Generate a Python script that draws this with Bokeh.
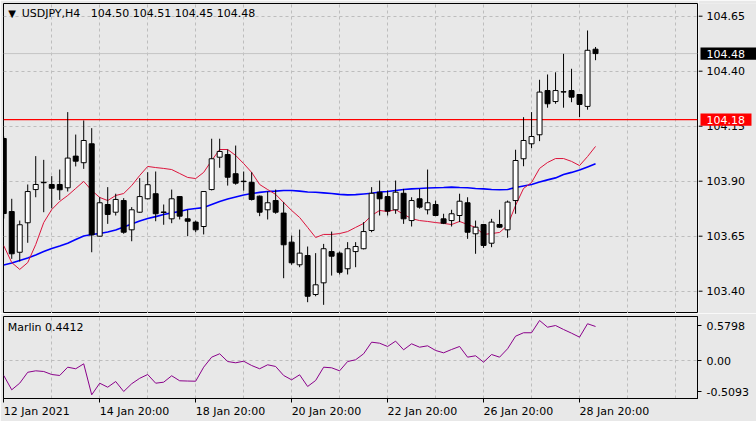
from bokeh.plotting import figure
from bokeh.models import Range1d, FixedTicker, Span, Label, ColumnDataSource
from bokeh.layouts import column, row
from bokeh.core.properties import value
from bokeh.embed import file_html
from bokeh.resources import INLINE

# ---------------- data ----------------
opens = [104.094,103.762,103.577,103.711,103.862,103.895,103.885,103.885,103.870,104.014,
 103.984,104.070,103.650,103.794,103.759,103.812,103.679,103.759,103.820,103.843,
 103.760,103.729,103.830,103.729,103.714,103.694,103.862,104.009,104.021,103.934,
 103.900,103.895,103.832,103.770,103.812,103.755,103.623,103.520,103.562,103.385,
 103.438,103.580,103.573,103.502,103.580,103.593,103.676,103.850,103.830,103.770,
 103.845,103.721,103.820,103.770,103.794,103.729,103.721,103.744,103.802,103.661,
 103.703,103.618,103.703,103.679,103.812,104.002,104.070,104.111,104.312,104.262,
 104.305,104.312,104.294,104.240,104.500]
highs = [104.103,103.820,103.721,103.885,104.014,103.997,103.923,103.953,104.214,104.112,
 104.176,104.141,103.827,103.873,103.843,103.823,103.782,103.914,103.941,103.944,
 103.794,103.862,103.832,103.770,103.721,103.855,104.093,104.093,104.044,104.062,
 103.944,103.941,103.835,103.853,103.862,103.805,103.653,103.680,103.603,103.573,
 103.615,103.671,103.580,103.623,103.623,103.714,103.873,103.903,103.858,103.903,
 103.865,103.827,103.865,103.953,103.812,103.752,103.770,103.843,103.827,103.721,
 103.705,103.729,103.770,103.812,104.043,104.191,104.214,104.361,104.385,104.395,
 104.479,104.411,104.296,104.585,104.510]
lows = [103.730,103.547,103.535,103.620,103.827,103.759,103.777,103.815,103.853,103.967,
 103.956,103.577,103.648,103.706,103.744,103.661,103.627,103.756,103.817,103.718,
 103.702,103.709,103.726,103.650,103.668,103.658,103.858,103.961,103.880,103.884,
 103.857,103.812,103.741,103.726,103.752,103.459,103.520,103.509,103.350,103.377,
 103.338,103.471,103.476,103.476,103.509,103.590,103.668,103.744,103.744,103.752,
 103.706,103.694,103.775,103.749,103.741,103.705,103.694,103.714,103.638,103.570,
 103.597,103.600,103.688,103.643,103.752,103.968,104.050,104.082,104.234,104.252,
 104.234,104.259,104.191,104.225,104.450]
closes = [103.753,103.570,103.702,103.853,103.885,103.893,103.868,103.861,104.005,103.991,
 104.085,103.656,103.802,103.749,103.817,103.668,103.770,103.830,103.884,103.752,
 103.758,103.820,103.741,103.718,103.679,103.853,104.002,104.035,103.918,103.891,
 103.898,103.817,103.759,103.802,103.759,103.611,103.529,103.573,103.377,103.429,
 103.593,103.559,103.486,103.593,103.603,103.671,103.845,103.820,103.764,103.850,
 103.729,103.812,103.782,103.802,103.744,103.709,103.752,103.809,103.668,103.691,
 103.608,103.714,103.691,103.805,103.994,104.085,104.103,104.305,104.252,104.312,
 104.307,104.282,104.249,104.495,104.480]
ma_fast = [103.607,103.530,103.499,103.530,103.612,103.712,103.771,103.808,103.835,103.867,
 103.899,103.858,103.826,103.812,103.835,103.844,103.880,103.926,103.967,103.962,
 103.958,103.953,103.935,103.917,103.912,103.940,103.994,104.044,104.044,104.017,
 103.980,103.940,103.885,103.862,103.840,103.803,103.767,103.735,103.690,103.644,
 103.658,103.658,103.662,103.671,103.690,103.708,103.744,103.767,103.762,103.771,
 103.749,103.730,103.721,103.717,103.712,103.708,103.703,103.717,103.703,103.690,
 103.658,103.662,103.667,103.699,103.790,103.867,103.894,103.958,103.985,104.003,
 104.003,103.990,103.971,104.012,104.058]
ma_slow = [103.519,103.528,103.540,103.551,103.565,103.580,103.594,103.605,103.618,103.635,
 103.651,103.658,103.662,103.669,103.678,103.692,103.705,103.719,103.730,103.739,
 103.749,103.756,103.762,103.771,103.776,103.780,103.794,103.808,103.819,103.828,
 103.837,103.844,103.849,103.853,103.855,103.858,103.858,103.855,103.851,103.850,
 103.847,103.844,103.840,103.838,103.839,103.842,103.845,103.851,103.853,103.858,
 103.862,103.865,103.867,103.869,103.870,103.871,103.873,103.871,103.870,103.867,
 103.865,103.862,103.861,103.862,103.871,103.878,103.885,103.896,103.906,103.915,
 103.930,103.940,103.951,103.965,103.979]
marlin = [-0.243,-0.480,-0.370,-0.190,-0.166,-0.177,-0.227,-0.243,-0.106,-0.132,
 -0.050,-0.563,-0.371,-0.437,-0.343,-0.508,-0.380,-0.290,-0.227,-0.371,
 -0.354,-0.248,-0.331,-0.335,-0.338,-0.106,0.060,0.116,-0.012,-0.033,
 -0.007,-0.078,-0.132,-0.066,-0.094,-0.243,-0.315,-0.232,-0.425,-0.326,
 -0.106,-0.116,-0.166,-0.012,0.017,0.116,0.308,0.291,0.237,0.325,
 0.182,0.281,0.225,0.248,0.171,0.132,0.187,0.237,0.060,0.083,
 -0.023,0.104,0.060,0.199,0.407,0.464,0.464,0.667,0.556,0.584,
 0.518,0.457,0.391,0.613,0.568]

date_ticks = [0, 12, 24, 36, 48, 60, 72]
date_labels = ["12 Jan 2021", "14 Jan 20:00", "18 Jan 20:00", "20 Jan 20:00",
               "22 Jan 20:00", "26 Jan 20:00", "28 Jan 20:00"]
grid_ticks = [6, 12, 18, 24, 30, 36, 42, 48, 54, 60, 66, 72, 78, 84]
price_ticks = [103.40, 103.65, 103.90, 104.15, 104.40, 104.65]
price_tick_labels = ["103.40", "103.65", "103.90", "104.15", "104.40", "104.65"]
marlin_ticks = [-0.5093, 0.0, 0.5798]
marlin_tick_labels = ["-0.5093", "0.00", "0.5798"]
level_price = 104.18
level_text = "104.18"
bid_price = 104.48
bid_text = "104.48"
title_text = "USDJPY,H4\u00a0\u00a0 104.50 104.51 104.45 104.48"
marlin_text = "Marlin 0.4412"

# ---------------- style ----------------
BG = "#e8e8e8"
GRID = "#bdbdbd"
FONT = "DejaVu Sans"
FSPX = 11
FS = f"{FSPX}px"
W = 756
LB = 3
RB = 59
FRAME_W = W - LB - RB
X0, X1 = -0.03, 86.75
PX_PER_BAR = FRAME_W / (X1 - X0)
Y0, Y1 = 103.2986, 104.7077
MAIN_FRAME_H = 310
PX_PER_PRICE = MAIN_FRAME_H / (Y1 - Y0)

# approximate DejaVu Sans advance widths (em) for the date label characters
CHAR_EM = {"0": .636, "1": .636, "2": .636, "3": .636, "4": .636, "5": .636, "6": .636,
           "7": .636, "8": .636, "9": .636, " ": .318, ":": .337, "J": .295, "a": .613,
           "n": .634}

def text_px(s):
    return sum(CHAR_EM.get(ch, .6) for ch in s) * FSPX

x_range = Range1d(X0, X1)
y_range = Range1d(Y0, Y1)

def style_common(p):
    p.background_fill_color = BG
    p.border_fill_color = BG
    p.outline_line_color = "black"
    p.outline_line_width = 1
    for g in (p.xgrid[0], p.ygrid[0]):
        g.grid_line_color = GRID
        g.grid_line_dash = "3 3"
        g.grid_line_width = 1
    p.xgrid[0].ticker = FixedTicker(ticks=grid_ticks)

def style_axis(ax):
    ax.axis_line_color = "black"
    ax.major_tick_line_color = "black"
    ax.minor_tick_line_color = "black"
    ax.major_tick_out = 4
    ax.major_tick_in = 0
    ax.minor_tick_out = 0
    ax.minor_tick_in = 0
    ax.major_label_text_font = FONT
    ax.major_label_text_font_size = FS
    ax.major_label_text_color = "black"
    ax.major_label_standoff = 5

# ---------------- main panel ----------------
p1 = figure(width=LB + FRAME_W + 1, height=3 + MAIN_FRAME_H, x_range=x_range, y_range=y_range,
            output_backend="svg", toolbar_location=None,
            x_axis_location=None, y_axis_location=None,
            min_border_left=LB, min_border_top=3, min_border_bottom=0, min_border_right=1)
style_common(p1)
p1.ygrid[0].ticker = FixedTicker(ticks=price_ticks)

idx = list(range(len(opens)))
src = ColumnDataSource(dict(
    x=idx, o=opens, h=highs, l=lows, c=closes,
    top=[max(o, c) for o, c in zip(opens, closes)],
    bottom=[min(o, c) for o, c in zip(opens, closes)],
    fill=["white" if c >= o else "black" for o, c in zip(opens, closes)],
))

p1.add_layout(Span(location=bid_price, dimension="width", line_color="#c4c4c4",
                   line_width=1, level="underlay"))

p1.line(idx, ma_slow, line_color="#0000ff", line_width=1.6)
p1.line(idx, ma_fast, line_color="#dc143c", line_width=1)
p1.segment(x0=[X0], x1=[X1], y0=[level_price], y1=[level_price],
           line_color="#ff0000", line_width=1.2)
p1.segment(x0="x", y0="h", x1="x", y1="l", source=src, line_color="black", line_width=1)
p1.vbar(x="x", width=0.62, top="top", bottom="bottom", fill_color="fill",
        line_color="black", line_width=1, source=src)

p1.add_layout(Label(x=0.55, y=104.662, text="\u25bc", text_font=FONT, text_font_size="10px",
                    text_baseline="middle", text_align="left", text_color="black"))
p1.add_layout(Label(x=2.25, y=104.66, text=title_text, text_font=FONT, text_font_size=FS,
                    text_baseline="middle", text_align="left", text_color="black"))

# ---------------- price scale strip (right of the main panel) ----------------
STRIP_W = W - (LB + FRAME_W + 1)
pr = figure(width=STRIP_W, height=3 + MAIN_FRAME_H, x_range=Range1d(1, 1 + STRIP_W),
            y_range=y_range, output_backend="svg", toolbar_location=None,
            x_axis_location=None, y_axis_location=None,
            min_border_left=0, min_border_top=3, min_border_bottom=0, min_border_right=0)
pr.background_fill_color = BG
pr.border_fill_color = BG
pr.outline_line_color = None
pr.grid.visible = False

box_half = 6.2 / PX_PER_PRICE
pr.segment(x0=1, x1=5, y0=price_ticks, y1=price_ticks, line_color="black", line_width=1)
pr.text(x=9, y=price_ticks, text=price_tick_labels, text_font=value(FONT),
        text_font_size=value(FS), text_baseline="middle", text_align="left", text_color="black")
pr.quad(left=3, right=54, top=level_price + box_half, bottom=level_price - box_half,
        fill_color="#ff0000", line_color=None)
pr.quad(left=3, right=1 + STRIP_W, top=bid_price + box_half, bottom=bid_price - box_half,
        fill_color="black", line_color=None)
pr.text(x=9, y=[level_price, bid_price], text=[level_text, bid_text], text_font=value(FONT),
        text_font_size=value(FS), text_baseline="middle", text_align="left", text_color="white")

# ---------------- indicator panel ----------------
p2 = figure(width=W, height=108, x_range=x_range, y_range=Range1d(-0.624, 0.733),
            output_backend="svg", toolbar_location=None,
            x_axis_location="below", y_axis_location="right",
            min_border_left=LB, min_border_top=3, min_border_bottom=23, min_border_right=RB)
style_common(p2)
p2.ygrid[0].ticker = FixedTicker(ticks=[0.0])
ya2 = p2.yaxis[0]
style_axis(ya2)
ya2.ticker = FixedTicker(ticks=marlin_ticks)
ya2.major_label_overrides = dict(zip(marlin_ticks, marlin_tick_labels))

# date labels: left-aligned at their tick, so the labelled (major) positions are shifted
# right by half a label width; the tick marks themselves are the minor ticks.
label_pos = [t + text_px(s) / 2 / PX_PER_BAR for t, s in zip(date_ticks, date_labels)]
xa2 = p2.xaxis[0]
style_axis(xa2)
xa2.ticker = FixedTicker(ticks=label_pos, minor_ticks=date_ticks)
xa2.major_label_overrides = dict(zip(label_pos, date_labels))
xa2.major_tick_out = 0
xa2.minor_tick_out = 4
xa2.major_label_standoff = 2

p2.line(idx, marlin, line_color="#8a008a", line_width=1)

p2.add_layout(Label(x=0.5, y=0.551, text=marlin_text, text_font=FONT, text_font_size=FS,
                    text_baseline="middle", text_align="left", text_color="black"))

layout = column(row(p1, pr, spacing=0), p2, spacing=0)
open("out.html", "w").write(file_html(layout, INLINE))
